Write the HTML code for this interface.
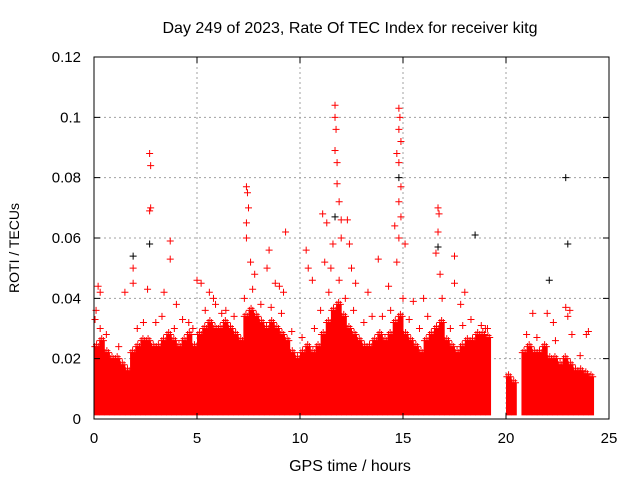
<!DOCTYPE html>
<html><head><meta charset="utf-8"><style>
html,body{margin:0;padding:0;background:#fff;}
svg{display:block;font-family:"Liberation Sans",sans-serif;}
</style></head><body>
<svg id="chart" width="640" height="480" viewBox="0 0 640 480" xmlns="http://www.w3.org/2000/svg">
<text x="350" y="33" font-size="16" text-anchor="middle">Day 249 of 2023, Rate Of TEC Index for receiver kitg</text>
<g id="grid"></g>
<g id="marks"></g>
<g id="axes"></g>
<text x="350" y="471" font-size="16" text-anchor="middle">GPS time / hours</text>
<text x="0" y="0" font-size="14" text-anchor="middle" transform="translate(19,248) rotate(-90)">ROTI / TECUs</text>
</svg>
<script>
const xTicks=[0,5,10,15,20,25];
const yTicks=[0,0.02,0.04,0.06,0.08,0.1,0.12];
const yTickLabels=["0","0.02","0.04","0.06","0.08","0.1","0.12"];
const binStart=0, binWidth=0.25;
const denseTop=[24,26,22,20,20,18,16,22,24,26,26,24,24,26,28,26,24,26,28,24,28,30,32,30,30,32,30,28,26,34,36,34,32,30,32,30,28,26,22,20,22,24,22,24,28,32,36,38,34,30,28,26,24,24,26,28,26,28,32,34,28,26,24,22,26,28,30,32,26,24,22,24,26,26,28,28,27,0,0,0,14,12,0,22,24,22,22,24,20,20,18,20,18,16,16,15,14];
const outT=[0.05,0.1,0.2,0.3,1.5,1.9,1.9,2.6,2.7,2.7,2.75,2.75,3.4,3.7,3.7,4.0,4.6,5.0,5.2,5.6,5.8,6.2,7.4,7.4,7.4,7.45,7.5,7.6,7.8,8.4,8.5,8.8,9.0,9.2,9.3,10.3,10.4,10.6,11.1,11.2,11.3,11.5,11.6,11.7,11.7,11.7,11.75,11.8,11.8,11.9,12.0,12.0,12.3,12.4,12.5,12.7,13.3,13.8,14.3,14.6,14.7,14.7,14.8,14.8,14.8,14.8,14.8,14.85,14.9,14.9,14.9,15.1,15.5,16.0,16.6,16.7,16.7,16.75,16.8,17.5,17.5,17.8,18.0,19.0,21.3,22.0,22.3,22.9,23.0,23.1,23.9,24.0];
const outV=[0.033,0.036,0.044,0.042,0.042,0.045,0.05,0.043,0.088,0.069,0.084,0.070,0.042,0.059,0.053,0.038,0.032,0.046,0.045,0.042,0.040,0.035,0.077,0.065,0.060,0.075,0.070,0.052,0.048,0.050,0.056,0.045,0.044,0.042,0.062,0.056,0.050,0.046,0.068,0.052,0.065,0.050,0.058,0.104,0.100,0.089,0.096,0.085,0.078,0.072,0.066,0.060,0.066,0.058,0.050,0.045,0.042,0.053,0.044,0.064,0.088,0.052,0.103,0.096,0.085,0.072,0.060,0.100,0.092,0.077,0.067,0.058,0.039,0.040,0.055,0.070,0.062,0.068,0.048,0.054,0.045,0.038,0.042,0.030,0.035,0.035,0.032,0.037,0.034,0.036,0.028,0.029];
const midT=[0.3,0.6,1.2,2.1,2.4,3.0,3.3,3.9,4.3,4.8,5.4,5.9,6.4,6.8,7.3,7.7,8.1,8.6,9.1,9.6,10.1,10.7,11.0,11.4,11.9,12.2,12.6,13.1,13.5,14.0,14.4,15.0,15.3,15.8,16.2,16.9,17.3,17.9,18.3,18.8,19.1,21.0,21.5,22.4,23.2,23.6];
const midV=[0.030,0.028,0.024,0.030,0.032,0.032,0.034,0.030,0.033,0.030,0.036,0.038,0.036,0.034,0.040,0.043,0.038,0.037,0.035,0.029,0.027,0.030,0.036,0.042,0.046,0.040,0.036,0.032,0.034,0.034,0.036,0.040,0.033,0.030,0.034,0.040,0.030,0.031,0.033,0.031,0.030,0.028,0.027,0.026,0.028,0.021];
const blackT=[1.9,2.7,11.7,14.8,16.7,18.5,22.1,22.9,23.0];
const blackV=[0.054,0.058,0.067,0.080,0.057,0.061,0.046,0.080,0.058];

const X0=94,X1=609,Y0=419,Y1=57;
const xs=t=>X0+(t/25)*(X1-X0);
const ys=v=>Y0-(v/0.12)*(Y0-Y1);
const NS="http://www.w3.org/2000/svg";
function mk(tag,attrs,parent){const e=document.createElementNS(NS,tag);for(const k in attrs)e.setAttribute(k,attrs[k]);parent.appendChild(e);return e;}
const grid=document.getElementById('grid'),marks=document.getElementById('marks'),axes=document.getElementById('axes');

xTicks.forEach((t,i)=>{
  if(i>0&&i<xTicks.length-1){const l=mk('line',{x1:xs(t),x2:xs(t),y1:Y0,y2:Y1,stroke:'#a0a0a0','stroke-dasharray':'2,3'},grid);
  
  }
  const tk=mk('path',{d:`M${xs(t)},${Y0}v-6M${xs(t)},${Y1}v6`,stroke:'#000'},axes);
  
  
  const tx=mk('text',{x:xs(t),y:443,'font-size':15,'text-anchor':'middle'},axes);tx.textContent=t;
  
  
});
yTicks.forEach((v,i)=>{
  if(i>0&&i<yTicks.length-1){const l=mk('line',{x1:X0,x2:X1,y1:ys(v),y2:ys(v),stroke:'#a0a0a0','stroke-dasharray':'2,3'},grid);
  
  }
  const tk=mk('path',{d:`M${X0},${ys(v)}h6M${X1},${ys(v)}h-6`,stroke:'#000'},axes);
  
  
  const tx=mk('text',{x:81,y:ys(v)+5,'font-size':15,'text-anchor':'end'},axes);tx.textContent=yTickLabels[i];
  
  
});
const fr=mk('rect',{x:X0,y:Y1,width:X1-X0,height:Y0-Y1,fill:'none',stroke:'#000'},axes);



function plus(x,y,col,parent){return mk('path',{d:`M${x-3.5},${y}h7M${x},${y-3.5}v7`,stroke:col,'stroke-width':1},parent);}
denseTop.forEach((v,i)=>{
  if(v<=0)return;
  const t0=binStart+i*binWidth, val=v/1000;
  const r=mk('rect',{x:xs(t0),y:ys(val),width:xs(t0+binWidth)-xs(t0)+0.5,height:ys(0.0012)-ys(val),fill:'#ff0000'},marks);
  
  
  for(let k=0;k<3;k++){const p=plus(xs(t0+binWidth*(k+0.5)/3),ys(val)-(k%2?2:0),'#ff0000',marks);
  
  }
});
midT.forEach((t,i)=>{const p=plus(xs(t),ys(midV[i]),'#ff0000',marks);
  
  });
blackT.forEach((t,i)=>{const p=plus(xs(t),ys(blackV[i]),'#000',marks);
  
  });
outT.forEach((t,i)=>{const p=plus(xs(t),ys(outV[i]),'#ff0000',marks);
  
  });
</script>
</body></html>
